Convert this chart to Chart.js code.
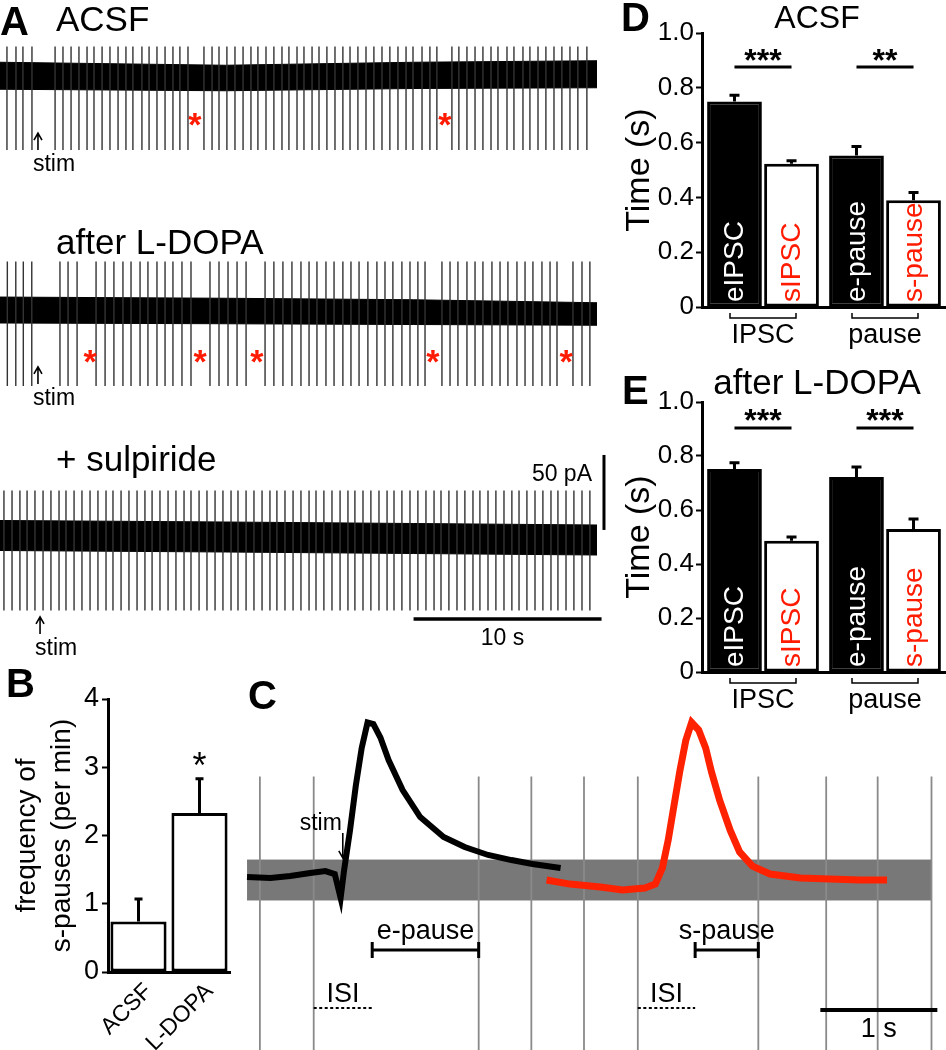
<!DOCTYPE html>
<html lang="en">
<head>
  <meta charset="UTF-8" />
  <title>s-pauses figure</title>
  <script src="https://cdn.jsdelivr.net/npm/chart.js"></script>
  <style>
    body {
      margin: 0;
      background: #fff;
      font-family: 'Liberation Sans', Arial, Helvetica, sans-serif;
    }
    #fig {
      position: relative;
      width: 946px;
      height: 1050px;
      overflow: hidden;
    }
    #fig canvas { position: absolute; }
    .lbl {
      position: absolute;
      color: #000;
      line-height: 1;
      white-space: nowrap;
    }
    .panel { font-weight: bold; font-size: 40px; }
    .cond { font-size: 35px; }
    .ttl { width: 260px; text-align: center; }
  </style>
</head>
<body>

<div id="fig">
  <canvas id="traceAcsf" width="610" height="140" style="left:0;top:35px"></canvas>
  <canvas id="traceLdopa" width="610" height="155" style="left:0;top:255px"></canvas>
  <canvas id="traceSulp" width="610" height="215" style="left:0;top:440px"></canvas>
  <canvas id="freqChart" width="240" height="390" style="left:0;top:660px"></canvas>
  <canvas id="sweepChart" width="706" height="335" style="left:240px;top:715px"></canvas>
  <canvas id="acsfChart" width="346" height="350" style="left:600px;top:0"></canvas>
  <canvas id="ldopaChart" width="346" height="360" style="left:600px;top:355px"></canvas>

  <div class="lbl panel" style="left:0;top:1px">A</div>
  <div class="lbl cond" style="left:56px;top:1px">ACSF</div>
  <div class="lbl cond" style="left:56px;top:224px">after L-DOPA</div>
  <div class="lbl cond" style="left:56px;top:441px">+ sulpiride</div>
  <div class="lbl panel" style="left:6px;top:663px">B</div>
  <div class="lbl panel" style="left:248px;top:675px">C</div>
  <div class="lbl panel" style="left:621px;top:-3px">D</div>
  <div class="lbl ttl" style="left:687px;top:1px;font-size:32px">ACSF</div>
  <div class="lbl panel" style="left:622px;top:370px">E</div>
  <div class="lbl ttl" style="left:687px;top:364px;font-size:35px">after L-DOPA</div>
</div>

<script>
  // ---- A: spike times (s) ----
  const acsfSpikes = [0.37, 0.85, 1.22, 1.70, 2.93, 3.35, 3.78, 4.20, 4.63, 5.00, 5.43, 5.85, 6.28, 6.70,
    7.07, 7.55, 7.93, 8.35, 8.78, 9.20, 9.57, 10.00, 10.85, 11.28, 11.65, 12.07, 12.50, 12.93, 13.35,
    13.72, 14.15, 14.57, 15.00, 15.37, 15.80, 16.17, 16.60, 16.97, 17.39, 17.82, 18.24, 18.62, 19.04,
    19.47, 19.89, 20.32, 20.74, 21.17, 21.60, 21.97, 22.45, 22.87, 23.24, 24.04, 24.41, 24.84, 25.27,
    25.69, 26.12, 26.49, 26.97, 27.34, 27.82, 28.19, 28.62, 29.04, 29.47, 29.89, 30.32, 30.74, 31.22];
  const ldopaSpikes = [0.39, 0.84, 1.24, 1.69, 3.19, 3.62, 4.10, 5.11, 5.59, 6.06, 6.54, 6.97, 7.45,
    7.87, 8.35, 8.78, 9.20, 9.68, 10.16, 11.17, 11.65, 12.13, 12.61, 13.09, 14.10, 14.57, 15.05, 15.53,
    16.01, 16.44, 16.86, 17.34, 17.77, 18.24, 18.67, 19.10, 19.57, 20.05, 20.48, 20.90, 21.38, 21.81,
    22.23, 22.61, 23.51, 23.94, 24.36, 24.84, 25.27, 25.69, 26.17, 26.60, 27.02, 27.50, 27.93, 28.35,
    28.83, 29.26, 29.63, 30.48, 30.96, 31.38];
  const sulpSpikes = [0.21, 0.64, 1.06, 1.44, 1.86, 2.29, 2.71, 3.14, 3.51, 3.94, 4.36, 4.79, 5.21,
    5.64, 6.01, 6.44, 6.86, 7.29, 7.71, 8.09, 8.51, 8.94, 9.36, 9.79, 10.16, 10.59, 11.01, 11.44, 11.86,
    12.29, 12.66, 13.09, 13.51, 13.94, 14.36, 14.73, 15.16, 15.59, 16.01, 16.44, 16.81, 17.23, 17.66,
    18.09, 18.51, 18.88, 19.31, 19.73, 20.16, 20.59, 20.96, 21.38, 21.81, 22.23, 22.66, 23.09, 23.46,
    23.88, 24.31, 24.73, 25.16, 25.53, 25.96, 26.38, 26.81, 27.23, 27.61, 28.03, 28.46, 28.88, 29.31,
    29.68, 30.11, 30.53, 30.96, 31.38];
  const acsfPauses = [10.37, 23.67];                       // red asterisks
  const ldopaPauses = [4.79, 10.64, 13.67, 23.03, 30.11];
  const stimTimes = [2.02, 2.02, 2.13];
  // noise envelope (pA) at a few times along each sweep
  const bandTimes = [0, 12, 22, 31.76];
  const acsfBandTop = [8.5, 6.5, 8.5, 9.5], acsfBandBot = [-9.5, -10.5, -9, -8.5];
  const ldopaBandTop = [9.3, 8.5, 7.5, 5.5], ldopaBandBot = [-8, -8.5, -9, -9.5];
  const sulpBandTop = [11, 10, 9, 8], sulpBandBot = [-9, -10, -11, -12];

  // ---- B ----
  const freqLabels = ['ACSF', 'L-DOPA'];
  const freqMean = [0.74, 2.33];
  const freqSem = [0.33, 0.5];

  // ---- C: single sweeps (s, pA) ----
  const graySpikes = [0.11, 0.57, 1.98, 2.43, 2.88, 3.34, 4.37, 4.95, 5.39, 5.85];
  const evokedT = [0, 0.20, 0.37, 0.54, 0.67, 0.75, 0.80, 0.83, 0.88, 0.93, 0.98, 1.03, 1.08, 1.14,
    1.21, 1.33, 1.48, 1.68, 1.86, 2.06, 2.26, 2.44, 2.68];
  const evokedI = [2, 1.3, 2.7, 4.7, 6, 4, -12, 6.7, 33, 63, 88, 105, 104, 95, 80, 60, 42, 28.7, 22,
    16.7, 13.3, 10.7, 8];
  const spontT = [2.56, 2.76, 3.02, 3.21, 3.40, 3.49, 3.55, 3.60, 3.65, 3.70, 3.75, 3.80, 3.86, 3.92,
    3.97, 4.04, 4.13, 4.21, 4.32, 4.47, 4.73, 4.98, 5.24, 5.47];
  const spontI = [0, -2.7, -4.7, -6.7, -5.3, -2.7, 8, 26.7, 50, 73, 93, 105, 100, 88, 72, 53, 33,
    18.7, 9.3, 4, 1.3, 0.7, 0, 0];
  const ePause = [1.07, 1.98];
  const sPause = [3.83, 4.37];
  const isiSpans = [[0.57, 1.07], [3.34, 3.83]];
  const cStim = 0.81;

  // ---- D / E ----
  const groupLabels = ['IPSC', 'pause'];
  const evokedNames = ['eIPSC', 'e-pause'];
  const spontNames = ['sIPSC', 's-pause'];
  const acsfEvoked = [0.75, 0.553], acsfEvokedSem = [0.023, 0.033];
  const acsfSpont = [0.523, 0.39], acsfSpontSem = [0.011, 0.028];
  const ldopaEvoked = [0.752, 0.722], ldopaEvokedSem = [0.023, 0.037];
  const ldopaSpont = [0.486, 0.53], ldopaSpontSem = [0.014, 0.037];
  const acsfSig = ['***', '**'];
  const ldopaSig = ['***', '***'];

  const FONT = "'Liberation Sans', Arial, Helvetica, sans-serif";
  const RED = '#ff1a00';
  const A_SPAN = 32.45;      // seconds shown across panel A
  const PA_PX = 1.5;         // px per pA in the sweeps

  Chart.defaults.font.family = FONT;
  Chart.defaults.color = '#000';
  Chart.defaults.animation = false;
  Chart.defaults.responsive = false;
  Chart.defaults.maintainAspectRatio = false;
  Chart.defaults.devicePixelRatio = 1;
  Chart.defaults.events = [];
  Chart.defaults.plugins.legend.display = false;
  Chart.defaults.plugins.tooltip.enabled = false;

  function spikeSegments(times, up, down) {
    const pts = [];
    times.forEach(t => { pts.push({x: t, y: down}, {x: t, y: up}, {x: t, y: null}); });
    return pts;
  }
  const pairs = (xs, ys) => xs.map((x, i) => ({x, y: ys[i]}));

  function arrow(ctx, x, y0, y1) {
    const dir = y1 > y0 ? 1 : -1;
    ctx.beginPath();
    ctx.moveTo(x, y0); ctx.lineTo(x, y1);
    ctx.moveTo(x - 4, y1 - dir * 7); ctx.lineTo(x, y1); ctx.lineTo(x + 4, y1 - dir * 7);
    ctx.stroke();
  }

  // stars, stim arrow and scale bars for an A sweep
  function sweepMarks(m) {
    return {
      id: 'sweepMarks',
      afterDatasetsDraw(chart) {
        const {ctx, scales: {x, y}} = chart;
        ctx.save();
        ctx.fillStyle = RED;
        ctx.font = `bold 34px ${FONT}`;
        ctx.textAlign = 'center';
        ctx.textBaseline = 'alphabetic';
        m.pauses.forEach(t => ctx.fillText('*', x.getPixelForValue(t), y.getPixelForValue(m.starAt) + 20));

        const sx = x.getPixelForValue(m.stim), tip = y.getPixelForValue(m.stimTip);
        ctx.strokeStyle = '#000';
        ctx.lineWidth = 1.6;
        arrow(ctx, sx, tip + 17, tip);
        ctx.fillStyle = '#000';
        ctx.font = `23px ${FONT}`;
        ctx.textAlign = 'left';
        ctx.fillText('stim', sx - 5, tip + 38);

        if (m.bars) {
          const b = m.bars;
          ctx.lineWidth = 3;
          const vx = x.getPixelForValue(b.vt);
          ctx.beginPath();
          ctx.moveTo(vx, y.getPixelForValue(b.v0));
          ctx.lineTo(vx, y.getPixelForValue(b.v0 + b.pA));
          ctx.stroke();
          ctx.font = `23px ${FONT}`;
          ctx.textAlign = 'right';
          ctx.fillText(b.pA + ' pA', vx - 12, y.getPixelForValue(b.v0 + b.pA) + 26);
          const hy = y.getPixelForValue(b.hy);
          ctx.lineWidth = 3.5;
          ctx.beginPath();
          ctx.moveTo(x.getPixelForValue(b.h0), hy);
          ctx.lineTo(x.getPixelForValue(b.h0 + b.s), hy);
          ctx.stroke();
          ctx.textAlign = 'center';
          ctx.fillText(b.s + ' s', x.getPixelForValue(b.h0 + b.s / 2) - 5, hy + 26);
        }
        ctx.restore();
      }
    };
  }

  function sweepChart(id, c) {
    const cv = document.getElementById(id);
    const h = cv.height;
    return new Chart(cv, {
      type: 'line',
      data: {
        datasets: [
          {data: spikeSegments(c.spikes, c.up, c.down), borderColor: '#333', borderWidth: 1.4},
          {data: pairs(bandTimes, c.top), fill: '+1', backgroundColor: '#000', borderColor: '#000', borderWidth: 1},
          {data: pairs(bandTimes, c.bot), borderColor: '#000', borderWidth: 1}
        ]
      },
      options: {
        spanGaps: false,
        elements: {point: {radius: 0}, line: {tension: 0}},
        scales: {
          x: {type: 'linear', display: false, min: 0, max: A_SPAN},
          y: {display: false, max: c.above / PA_PX, min: -(h - c.above) / PA_PX}
        }
      },
      plugins: [sweepMarks(c.marks)]
    });
  }

  sweepChart('traceAcsf', {
    spikes: acsfSpikes, up: 19, down: -50, top: acsfBandTop, bot: acsfBandBot, above: 40,
    marks: {pauses: acsfPauses, starAt: -27.3, stim: stimTimes[0], stimTip: -38.7}
  });
  sweepChart('traceLdopa', {
    spikes: ldopaSpikes, up: 33, down: -50, top: ldopaBandTop, bot: ldopaBandBot, above: 56,
    marks: {pauses: ldopaPauses, starAt: -28, stim: stimTimes[1], stimTip: -37.3}
  });
  sweepChart('traceSulp', {
    spikes: sulpSpikes, up: 31, down: -49, top: sulpBandTop, bot: sulpBandBot, above: 97,
    marks: {pauses: [], starAt: 0, stim: stimTimes[2], stimTip: -53.3,
      bars: {vt: 32.13, v0: 4.7, pA: 50, h0: 22.0, s: 10, hy: -54.7}}
  });

  // ---- B ----
  const freqMarks = {
    id: 'freqMarks',
    afterDatasetsDraw(chart) {
      const {ctx, scales: {y}} = chart;
      const meta = chart.getDatasetMeta(0);
      ctx.save();
      ctx.strokeStyle = '#000';
      ctx.lineWidth = 3;
      meta.data.forEach((bar, j) => {
        const top = y.getPixelForValue(freqMean[j] + freqSem[j]);
        ctx.beginPath();
        ctx.moveTo(bar.x, bar.y); ctx.lineTo(bar.x, top);
        ctx.moveTo(bar.x - 4, top); ctx.lineTo(bar.x + 4, top);
        ctx.stroke();
      });
      ctx.fillStyle = '#000';
      ctx.font = `36px ${FONT}`;
      ctx.textAlign = 'center';
      ctx.fillText('*', meta.data[1].x, y.getPixelForValue(3.15) + 21);
      ctx.restore();
    }
  };

  new Chart(document.getElementById('freqChart'), {
    type: 'bar',
    data: {
      labels: freqLabels,
      datasets: [{data: freqMean, backgroundColor: '#fff', borderColor: '#000', borderWidth: 3,
        borderSkipped: false, categoryPercentage: 1, barPercentage: 0.92}]
    },
    options: {
      layout: {padding: {top: 39, right: 10, left: 0, bottom: 0}},
      scales: {
        x: {
          grid: {display: false, drawTicks: false},
          border: {color: '#000', width: 3},
          ticks: {font: {size: 23}, color: '#000', minRotation: 45, maxRotation: 45, padding: 6, labelOffset: 10},
          afterFit: s => { s.height = 78; }
        },
        y: {
          min: 0, max: 4,
          ticks: {stepSize: 1, font: {size: 27}, color: '#000', padding: 3},
          grid: {drawOnChartArea: false, tickLength: 6, tickColor: '#000', tickWidth: 2},
          border: {color: '#000', width: 3},
          title: {display: true, text: ['frequency of', 's-pauses (per min)'], color: '#000',
            font: {size: 28, lineHeight: 1.25}, padding: {top: 10, bottom: 0}},
          afterFit: s => { s.width = 108; }
        }
      }
    },
    plugins: [freqMarks]
  });

  // ---- C ----
  const sweepC = {
    id: 'sweepC',
    afterDatasetsDraw(chart) {
      const {ctx, scales: {x, y}} = chart;
      ctx.save();
      ctx.strokeStyle = '#000';
      ctx.fillStyle = '#000';
      ctx.font = `27px ${FONT}`;
      ctx.textAlign = 'center';
      const yb = y.getPixelForValue(-46.7);
      [[ePause, 'e-pause'], [sPause, 's-pause']].forEach(([span, name]) => {
        const x0 = x.getPixelForValue(span[0]), x1 = x.getPixelForValue(span[1]);
        ctx.lineWidth = 3;
        ctx.beginPath();
        ctx.moveTo(x0, yb); ctx.lineTo(x1, yb);
        ctx.moveTo(x0, yb - 8); ctx.lineTo(x0, yb + 8);
        ctx.moveTo(x1, yb - 8); ctx.lineTo(x1, yb + 8);
        ctx.stroke();
        ctx.fillText(name, (x0 + x1) / 2, yb - 11);
      });
      const yi = y.getPixelForValue(-85.3);
      isiSpans.forEach(span => {
        const x0 = x.getPixelForValue(span[0]), x1 = x.getPixelForValue(span[1]);
        ctx.lineWidth = 2;
        ctx.setLineDash([3, 2.5]);
        ctx.beginPath(); ctx.moveTo(x0, yi); ctx.lineTo(x1, yi); ctx.stroke();
        ctx.setLineDash([]);
        ctx.fillText('ISI', (x0 + x1) / 2, yi - 6);
      });
      // 1 s scale bar
      const ys = y.getPixelForValue(-86.7);
      ctx.lineWidth = 4;
      ctx.beginPath();
      ctx.moveTo(x.getPixelForValue(4.9), ys); ctx.lineTo(x.getPixelForValue(5.9), ys);
      ctx.stroke();
      ctx.fillText('1 s', x.getPixelForValue(5.4), ys + 27);
      // stim
      const sx = x.getPixelForValue(cStim);
      ctx.font = `23px ${FONT}`;
      ctx.fillText('stim', sx - 21, y.getPixelForValue(38.7) + 8);
      ctx.lineWidth = 1.6;
      arrow(ctx, sx + 1, y.getPixelForValue(31.3), y.getPixelForValue(14.7));
      ctx.restore();
    }
  };

  new Chart(document.getElementById('sweepChart'), {
    type: 'line',
    data: {
      datasets: [
        {data: pairs(spontT, spontI), borderColor: '#ff2200', borderWidth: 7},
        {data: pairs(evokedT, evokedI), borderColor: '#000', borderWidth: 6},
        {data: spikeSegments(graySpikes, 69, -130), borderColor: '#8a8a8a', borderWidth: 1.8},
        {data: [{x: 0, y: 13.3}, {x: 5.85, y: 13.3}], fill: '+1', backgroundColor: '#787878', borderColor: '#787878', borderWidth: 1},
        {data: [{x: 0, y: -13.3}, {x: 5.85, y: -13.3}], borderColor: '#787878', borderWidth: 1}
      ]
    },
    options: {
      spanGaps: false,
      elements: {point: {radius: 0}, line: {tension: 0}},
      scales: {
        x: {type: 'linear', display: false, min: -0.06, max: 5.974},
        y: {display: false, min: -113.3, max: 110}
      }
    },
    plugins: [sweepC]
  });

  // ---- D / E ----
  function groupMarks(g) {
    return {
      id: 'groupMarks',
      afterDatasetsDraw(chart) {
        const {ctx, chartArea, scales: {x, y}} = chart;
        ctx.save();
        ctx.strokeStyle = '#000';
        chart.data.datasets.forEach((ds, i) => {
          chart.getDatasetMeta(i).data.forEach((bar, j) => {
            const top = y.getPixelForValue(ds.data[j] + ds.sem[j]);
            ctx.lineWidth = 3;
            ctx.beginPath();
            ctx.moveTo(bar.x, bar.y); ctx.lineTo(bar.x, top);
            ctx.moveTo(bar.x - 5, top); ctx.lineTo(bar.x + 5, top);
            ctx.stroke();
            ctx.save();
            ctx.translate(bar.x, chartArea.bottom - 5);
            ctx.rotate(-Math.PI / 2);
            ctx.fillStyle = ds.nameColor;
            ctx.font = `28px ${FONT}`;
            ctx.textAlign = 'left';
            ctx.textBaseline = 'middle';
            ctx.fillText(ds.names[j], 0, 1);
            ctx.restore();
          });
        });
        const ev = chart.getDatasetMeta(0).data, sp = chart.getDatasetMeta(1).data;
        ctx.fillStyle = '#000';
        ctx.textAlign = 'center';
        g.sig.forEach((s, j) => {
          const ly = y.getPixelForValue(g.line);
          ctx.lineWidth = 3;
          ctx.beginPath(); ctx.moveTo(ev[j].x, ly); ctx.lineTo(sp[j].x, ly); ctx.stroke();
          ctx.font = `bold 32px ${FONT}`;
          ctx.fillText(s, (ev[j].x + sp[j].x) / 2, y.getPixelForValue(g.star) + 18);
          const cx = x.getPixelForValue(j), by = chartArea.bottom + 11;
          ctx.lineWidth = 1.5;
          ctx.beginPath();
          ctx.moveTo(cx - 33, by - 5); ctx.lineTo(cx - 33, by);
          ctx.lineTo(cx + 33, by); ctx.lineTo(cx + 33, by - 5);
          ctx.stroke();
        });
        ctx.restore();
      }
    };
  }

  function timeChart(id, c) {
    return new Chart(document.getElementById(id), {
      type: 'bar',
      data: {
        labels: groupLabels,
        datasets: [
          {data: c.ev, sem: c.evSem, names: evokedNames, nameColor: '#fff',
            backgroundColor: '#000', borderColor: '#000', borderWidth: 3, borderSkipped: false},
          {data: c.sp, sem: c.spSem, names: spontNames, nameColor: RED,
            backgroundColor: '#fff', borderColor: '#000', borderWidth: 3, borderSkipped: false}
        ]
      },
      options: {
        layout: {padding: {top: c.padTop, right: 0, left: 0, bottom: 0}},
        datasets: {bar: {categoryPercentage: 0.935, barPercentage: 0.96}},
        scales: {
          x: {
            grid: {display: false, drawTicks: false},
            border: {color: '#000', width: 3},
            ticks: {font: {size: 27}, color: '#000', padding: 12},
            afterFit: s => { s.height = 43; }
          },
          y: {
            min: 0, max: 1,
            ticks: {stepSize: 0.2, font: {size: 26}, color: '#000', padding: 2,
              callback: v => v === 0 ? '0' : v.toFixed(1)},
            grid: {drawOnChartArea: false, tickLength: 6, tickColor: '#000', tickWidth: 2},
            border: {color: '#000', width: 3},
            title: {display: true, text: 'Time (s)', color: '#000', font: {size: 34, lineHeight: 1.2},
              padding: {top: 19, bottom: 0}},
            afterFit: s => { s.width = 102; }
          }
        }
      },
      plugins: [groupMarks(c.marks)]
    });
  }

  timeChart('acsfChart', {
    ev: acsfEvoked, evSem: acsfEvokedSem, sp: acsfSpont, spSem: acsfSpontSem, padTop: 33,
    marks: {sig: acsfSig, line: 0.876, star: 0.927}
  });
  timeChart('ldopaChart', {
    ev: ldopaEvoked, evSem: ldopaEvokedSem, sp: ldopaSpont, spSem: ldopaSpontSem, padTop: 47,
    marks: {sig: ldopaSig, line: 0.904, star: 0.959}
  });
</script>

</body>
</html>
